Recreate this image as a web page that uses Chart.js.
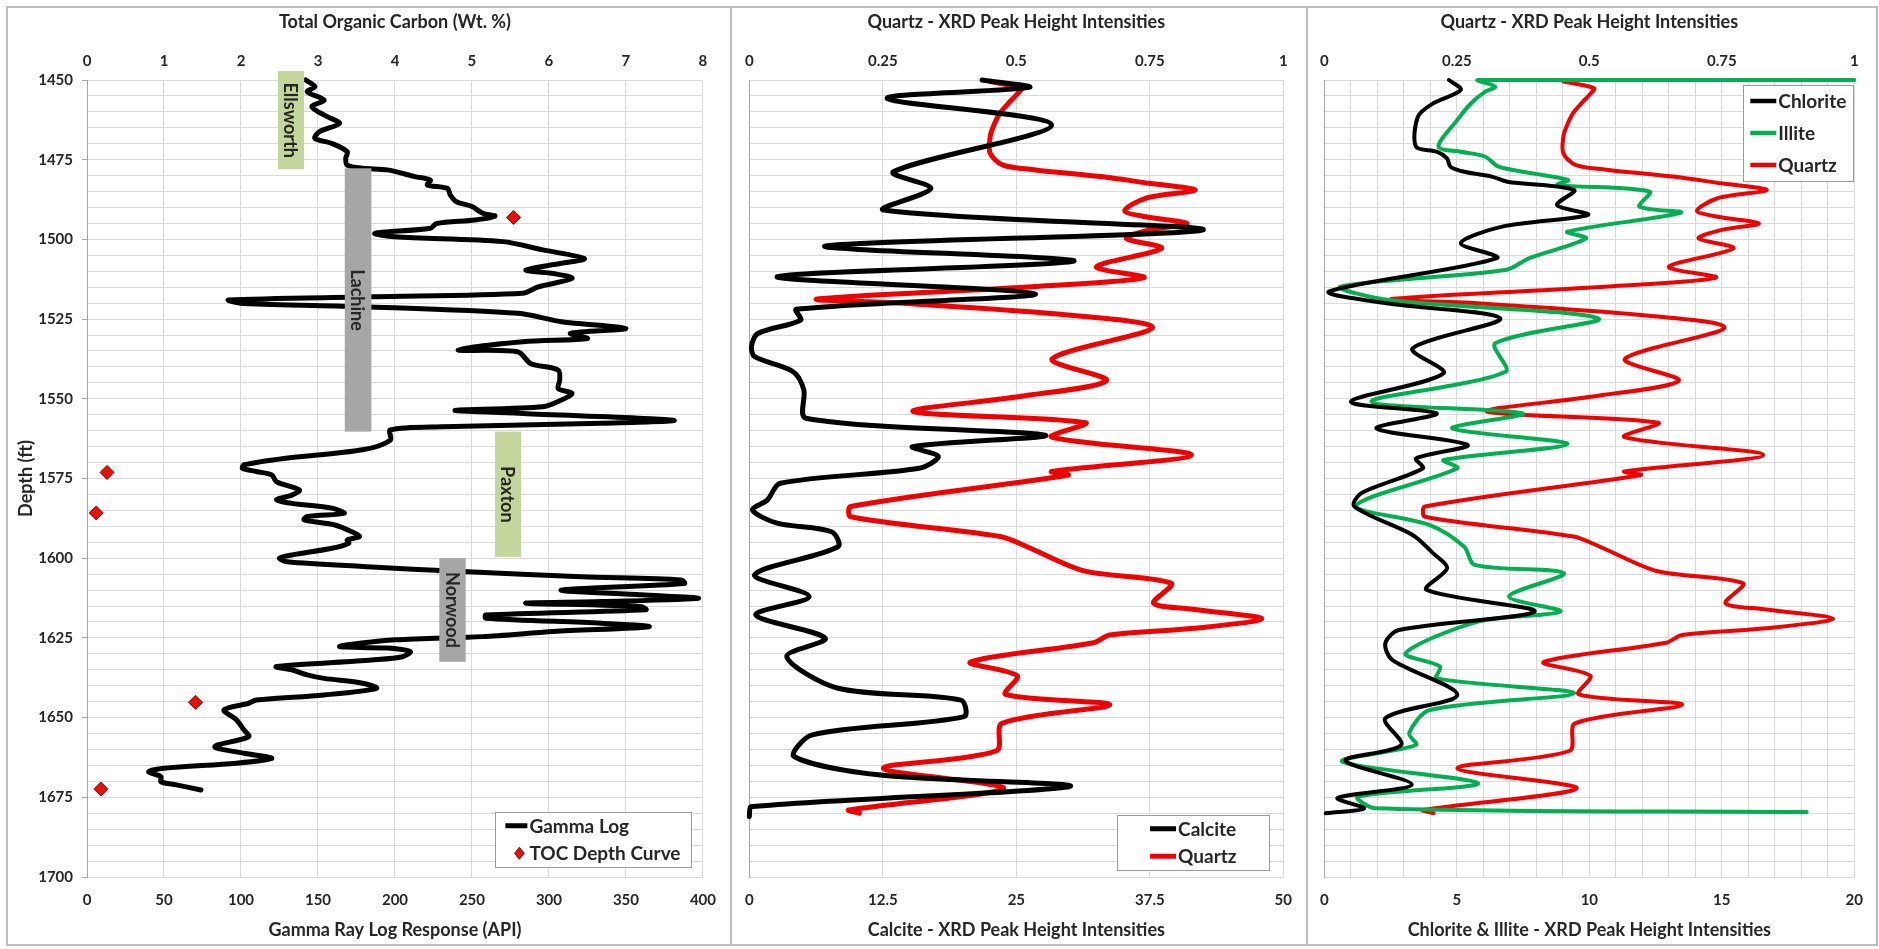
<!DOCTYPE html>
<html><head><meta charset="utf-8">
<script src="https://cdn.jsdelivr.net/npm/chart.js@4.4.0/dist/chart.umd.min.js"></script>
<style>
html,body{margin:0;padding:0;background:#fff;width:1879px;height:949px;overflow:hidden;position:relative}
.frame{position:absolute;border:2px solid #bdbdbd;box-sizing:border-box}
canvas{position:absolute}
</style></head><body>
<div class="frame" style="left:6px;top:6px;width:726px;height:940px"></div>
<div class="frame" style="left:730px;top:6px;width:578px;height:940px"></div>
<div class="frame" style="left:1306px;top:6px;width:572px;height:940px"></div>
<canvas id="c1" width="723" height="938" style="left:7px;top:7px"></canvas>
<canvas id="c2" width="575" height="938" style="left:731px;top:7px"></canvas>
<canvas id="c3" width="571" height="938" style="left:1306px;top:7px"></canvas>
<script>
// ---------------- DATA (depth in ft, value) ----------------
const gammaLog = [[1450.0,142],[1452.1,148],[1453.7,143],[1456.3,154],[1458.4,146],[1461.5,156],[1463.6,164],[1466.2,151],[1468.3,148],[1469.9,159],[1472.5,169],[1474.6,168],[1476.7,169],[1477.7,179],[1478.2,195],[1480.3,213],[1481.4,223],[1482.9,221],[1484.0,234],[1486.1,236],[1488.2,240],[1489.7,250],[1491.8,257],[1492.7,265],[1493.9,252],[1495.0,227],[1496.5,223],[1498.1,187],[1499.2,200],[1500.7,270],[1503.3,296],[1506.0,323],[1507.5,308],[1509.6,285],[1510.7,303],[1512.2,315],[1514.9,293],[1516.9,283],[1518.0,185],[1519.0,92],[1520.1,102],[1521.1,179],[1523.2,280],[1525.8,308],[1527.9,350],[1529.5,314],[1531.1,325],[1532.1,283],[1534.7,241],[1535.3,280],[1538.9,288],[1541.0,306],[1544.1,307],[1546.8,306],[1548.3,315],[1550.4,308],[1552.5,296],[1553.6,239],[1554.6,283],[1556.7,381],[1557.7,334],[1558.8,231],[1559.8,197],[1563.0,197],[1566.0,179],[1568.7,128],[1570.7,102],[1571.8,101],[1572.8,110],[1573.9,120],[1576.0,123],[1578.6,138],[1580.2,133],[1581.7,123],[1582.8,133],[1584.3,159],[1585.9,167],[1586.9,143],[1588.0,141],[1589.6,161],[1591.7,172],[1593.2,177],[1594.3,169],[1595.3,170],[1596.9,159],[1599.0,133],[1600.0,125],[1601.1,130],[1602.6,179],[1604.2,244],[1605.8,321],[1606.8,386],[1607.9,388],[1610.0,308],[1611.5,360],[1612.6,397],[1613.6,334],[1614.1,285],[1615.2,360],[1616.2,363],[1617.8,259],[1618.8,259],[1620.4,334],[1621.5,365],[1623.0,303],[1624.6,257],[1625.6,200],[1627.7,164],[1628.2,195],[1629.3,210],[1630.9,205],[1631.9,185],[1634.0,123],[1635.0,133],[1636.6,143],[1637.7,154],[1639.2,179],[1640.8,188],[1642.9,154],[1644.5,110],[1645.5,105],[1647.6,89],[1650.7,97],[1653.9,102],[1656.0,105],[1659.1,83],[1661.2,102],[1662.8,120],[1664.3,97],[1665.9,50],[1667.0,40],[1668.5,48],[1670.1,48],[1671.1,58],[1672.7,74]];
const tocDepthCurve = [[1493.1,5.54],[1573.1,0.26],[1585.8,0.12],[1645.2,1.41],[1672.4,0.18]];
const calcite = [[1450.0,21.8],[1452.3,26.2],[1455.8,12.9],[1464.1,28.3],[1478.8,13.5],[1484.0,17.0],[1490.8,12.6],[1497.0,42.5],[1502.1,7.1],[1506.8,30.4],[1511.7,2.6],[1517.1,26.8],[1521.9,4.4],[1525.3,4.8],[1529.5,0.8],[1533.6,0.2],[1536.8,0.5],[1541.5,4.1],[1547.2,5.1],[1556.1,5.3],[1561.4,27.7],[1565.0,15.3],[1568.1,17.7],[1571.8,15.9],[1576.5,2.9],[1581.7,1.7],[1584.9,0.3],[1589.0,2.6],[1591.7,7.7],[1596.4,8.3],[1605.2,0.5],[1612.0,5.6],[1617.8,0.6],[1625.1,7.1],[1630.9,3.5],[1640.8,8.3],[1644.5,19.8],[1649.7,20.1],[1655.4,5.9],[1662.2,4.2],[1668.0,12.3],[1671.6,30.0],[1678.0,0.1],[1681.0,0.0]];
const quartz = [[1450.5,0.451],[1452.6,0.509],[1454.7,0.500],[1456.8,0.488],[1460.5,0.469],[1464.6,0.457],[1467.8,0.451],[1473.0,0.451],[1476.7,0.475],[1478.2,0.536],[1480.3,0.657],[1482.4,0.748],[1484.5,0.835],[1487.1,0.742],[1491.0,0.703],[1492.9,0.742],[1495.0,0.820],[1497.1,0.748],[1499.7,0.706],[1502.8,0.772],[1508.6,0.650],[1512.0,0.739],[1514.8,0.536],[1518.7,0.127],[1520.1,0.294],[1523.7,0.597],[1527.7,0.755],[1537.5,0.567],[1544.3,0.669],[1549.3,0.506],[1554.0,0.307],[1557.5,0.630],[1562.0,0.566],[1567.6,0.828],[1572.8,0.566],[1573.9,0.597],[1583.8,0.190],[1587.0,0.190],[1593.2,0.470],[1596.4,0.520],[1604.0,0.627],[1607.9,0.790],[1614.1,0.757],[1616.0,0.830],[1619.0,0.960],[1622.0,0.833],[1624.1,0.675],[1626.5,0.645],[1632.6,0.414],[1636.9,0.502],[1642.7,0.480],[1646.0,0.675],[1651.8,0.473],[1660.4,0.463],[1665.9,0.251],[1672.2,0.476],[1679.0,0.186],[1680.0,0.206]];
const chlorite = [[1450.0,4.70],[1453.1,5.15],[1457.3,4.11],[1461.5,3.53],[1470.9,3.46],[1472.5,4.24],[1474.6,4.63],[1477.2,4.76],[1478.8,5.28],[1480.3,6.32],[1481.9,6.90],[1484.5,9.43],[1489.2,8.78],[1492.3,9.95],[1496.0,6.71],[1501.2,5.15],[1505.9,6.51],[1516.4,0.16],[1520.1,2.43],[1524.8,6.64],[1534.2,3.33],[1542.0,4.50],[1550.9,1.00],[1554.6,4.24],[1559.3,1.97],[1564.5,5.41],[1568.7,3.46],[1571.8,3.72],[1579.6,1.39],[1583.8,1.13],[1592.7,3.33],[1598.5,4.11],[1603.2,4.63],[1609.9,3.86],[1616.7,7.94],[1622.5,2.81],[1626.7,2.30],[1631.9,2.56],[1642.9,5.02],[1650.2,2.30],[1658.6,2.90],[1663.5,0.80],[1671.0,3.30],[1675.2,0.50],[1678.5,1.50],[1680.0,0.05]];
const illite = [[1450.0,20.0],[1450.0,5.80],[1452.1,6.45],[1453.7,6.06],[1457.3,5.54],[1462.5,5.02],[1470.9,4.31],[1472.5,5.15],[1474.0,6.06],[1477.2,6.58],[1479.3,7.87],[1481.4,9.20],[1482.9,8.80],[1485.0,12.28],[1489.7,11.89],[1491.6,13.45],[1497.6,9.17],[1499.7,9.88],[1505.9,7.74],[1509.6,6.84],[1514.8,0.61],[1519.0,2.43],[1524.8,10.34],[1532.6,6.45],[1541.5,6.84],[1550.9,1.78],[1554.6,7.48],[1559.3,4.83],[1564.2,9.17],[1569.2,4.50],[1571.8,5.02],[1583.5,1.20],[1589.6,3.98],[1596.4,5.28],[1602.1,5.67],[1604.7,9.04],[1612.0,6.97],[1616.7,8.91],[1619.9,5.80],[1629.8,3.07],[1634.0,4.37],[1637.7,4.24],[1642.4,9.43],[1647.6,3.98],[1654.9,3.20],[1658.6,3.46],[1663.8,0.67],[1670.6,5.80],[1674.8,1.26],[1678.4,1.91],[1679.6,18.2]];
// formation intervals: name, top depth, base depth, API column
const formationNames = ['Ellsworth','Lachine','Paxton','Norwood'];
const formationTop   = [1447.2, 1477.7, 1560.3, 1600.0];
const formationBase  = [1478.0, 1560.3, 1599.6, 1632.5];
const formationApiL  = [124, 167.4, 265, 228.8];
const formationApiR  = [141, 184.7, 282, 245.9];
const formationKind  = ['green','gray','green','gray'];
// ticks
const depthRange = [1450, 1700], depthStep = 5, depthLabelStep = 25;
const gammaTicks = [0,50,100,150,200,250,300,350,400];
const tocTicks = [0,1,2,3,4,5,6,7,8];
const quartzTicks = [0,0.25,0.5,0.75,1];
const calciteTicks = [0,12.5,25,37.5,50];
const clayLabelTicks = [0,5,10,15,20];
const clayGridTicks = [0,1,2,3,4,5,6,7,8,9,10,11,12,13,14,15,16,17,18,19,20];

// ---------------- STYLE ----------------
const FONT = "Lato, 'Open Sans', 'Liberation Sans', sans-serif";
const TXT = '#262626', GRID = '#d9d9d9', AXIS = '#a6a6a6';
const RED = '#f00000', GREEN = '#00b050', BLACK = '#000000';
const depthTicks = [];
for (let d = depthRange[0]; d <= depthRange[1]; d += depthStep) depthTicks.push(d);

function depthAxis(o) {
  return {
    type: 'linear', position: 'left', reverse: true, min: depthRange[0], max: depthRange[1],
    afterBuildTicks: s => { s.ticks = depthTicks.map(v => ({value: v})); },
    ticks: { display: o.labels, autoSkip: false, padding: 9, color: TXT,
      font: {family: FONT, size: 15, weight: 'bold'},
      callback: v => (v % depthLabelStep === 0 ? String(v) : '') },
    grid: { color: GRID, lineWidth: 1, drawTicks: o.labels, tickLength: 5,
      tickColor: c => (c.tick && c.tick.value % depthLabelStep === 0) ? AXIS : 'rgba(0,0,0,0)' },
    border: { display: true, color: AXIS, width: 1 },
    title: o.title ? { display: true, text: o.title, color: TXT,
      font: {family: FONT, size: 18, weight: 'bold'}, padding: {top: 8, bottom: 0} } : {display: false},
    afterFit: s => { s.width = o.width; }
  };
}
function valueAxis(o) {
  const top = o.position === 'top';
  return {
    type: 'linear', position: o.position, min: o.min, max: o.max,
    afterBuildTicks: s => { s.ticks = o.gridTicks.map(v => ({value: v})); },
    ticks: { autoSkip: false, maxRotation: 0, minRotation: 0, padding: top ? 10 : 14, color: TXT,
      font: {family: FONT, size: 15, weight: 'bold'},
      callback: v => o.labelTicks.some(t => Math.abs(t - v) < 1e-9) ? String(v) : '' },
    grid: { display: o.grid, color: GRID, lineWidth: 1, drawTicks: false },
    border: { display: false },
    title: { display: true, text: o.title, color: TXT, font: {family: FONT, size: 18, weight: 'bold'},
      padding: top ? {top: 4, bottom: 0} : {top: 0, bottom: 4} },
    afterFit: s => { s.height = top ? 73 : 68; }
  };
}
const toPts = arr => arr.map(([d, v]) => ({x: v, y: d}));
function lineDs(label, arr, color, width, xAxisID) {
  return { label, data: toPts(arr), xAxisID, yAxisID: 'y', showLine: true, borderColor: color,
    backgroundColor: color, borderWidth: width, pointRadius: 0, tension: 0.3, clip: 8,
    borderJoinStyle: 'round', borderCapStyle: 'round' };
}

function boxLegend(cfg) {
  return { id: 'boxLegend', afterDraw(chart) {
    const ctx = chart.ctx, a = chart.chartArea;
    const bx = a.right - cfg.right - cfg.w;
    const by = cfg.top != null ? a.top + cfg.top : a.bottom - cfg.bottom - cfg.h;
    ctx.save();
    ctx.fillStyle = '#fff'; ctx.fillRect(bx, by, cfg.w, cfg.h);
    ctx.strokeStyle = '#9a9a9a'; ctx.lineWidth = 1;
    ctx.strokeRect(Math.round(bx) + 0.5, Math.round(by) + 0.5, cfg.w, cfg.h);
    ctx.font = 'bold 19px ' + FONT; ctx.textBaseline = 'middle'; ctx.textAlign = 'left';
    const dsets = chart.data.datasets;
    const maxW = Math.max(...dsets.map(d => ctx.measureText(d.label).width));
    const sw = cfg.sampleW;
    const x0 = bx + (cfg.w - sw - 2 - maxW) / 2;
    const rowH = cfg.h / dsets.length;
    dsets.forEach((d, i) => {
      const cy = by + rowH * (i + 0.5);
      if (d.showLine) {
        ctx.strokeStyle = d.borderColor; ctx.lineWidth = cfg.lineW; ctx.lineCap = 'butt';
        ctx.beginPath(); ctx.moveTo(x0, cy); ctx.lineTo(x0 + sw, cy); ctx.stroke();
      } else {
        const cx = x0 + sw / 2 + 3, r = 6;
        ctx.fillStyle = d.backgroundColor; ctx.strokeStyle = d.borderColor; ctx.lineWidth = 1;
        ctx.beginPath(); ctx.moveTo(cx, cy - r); ctx.lineTo(cx + r * 0.8, cy); ctx.lineTo(cx, cy + r); ctx.lineTo(cx - r * 0.8, cy); ctx.closePath();
        ctx.fill(); ctx.stroke();
      }
      ctx.fillStyle = TXT; ctx.fillText(d.label, x0 + sw + 2, cy + 1);
    });
    ctx.restore();
  }};
}
const formationPlugin = { id: 'formations', afterDatasetsDraw(chart) {
  const ctx = chart.ctx, xs = chart.scales.x, ys = chart.scales.y;
  ctx.save();
  formationNames.forEach((name, i) => {
    const x1 = xs.getPixelForValue(formationApiL[i]), x2 = xs.getPixelForValue(formationApiR[i]);
    const y1 = ys.getPixelForValue(formationTop[i]), y2 = ys.getPixelForValue(formationBase[i]);
    ctx.fillStyle = formationKind[i] === 'green' ? '#c3d69b' : '#a6a6a6';
    ctx.fillRect(x1, y1, x2 - x1, y2 - y1);
    ctx.save();
    ctx.translate((x1 + x2) / 2, (y1 + y2) / 2);
    ctx.rotate(Math.PI / 2);
    ctx.fillStyle = '#262626'; ctx.font = 'bold 18px ' + FONT;
    ctx.textAlign = 'center'; ctx.textBaseline = 'middle';
    ctx.fillText(name, 0, 1);
    ctx.restore();
  });
  ctx.restore();
}};

function makeChart(id, datasets, scales, padRight, plugins) {
  return new Chart(document.getElementById(id), {
    type: 'scatter',
    data: {datasets},
    options: { responsive: false, animation: false, events: [], devicePixelRatio: 1,
      layout: { padding: {left: 0, right: padRight, top: 0, bottom: 0}, autoPadding: false },
      plugins: { legend: {display: false}, tooltip: {enabled: false} },
      scales },
    plugins
  });
}

// Panel 1
makeChart('c1', [
  lineDs('Gamma Log', gammaLog, BLACK, 5, 'x'),
  { label: 'TOC Depth Curve', data: toPts(tocDepthCurve), xAxisID: 'x2', yAxisID: 'y', showLine: false,
    pointStyle: 'rectRot', pointRadius: 7, backgroundColor: '#e3120b', borderColor: '#8b0000', borderWidth: 1, clip: 10 }
], {
  y: depthAxis({labels: true, title: 'Depth (ft)', width: 80}),
  x: valueAxis({position: 'bottom', min: 0, max: 400, gridTicks: gammaTicks, labelTicks: gammaTicks, title: 'Gamma Ray Log Response (API)', grid: true}),
  x2: valueAxis({position: 'top', min: 0, max: 8, gridTicks: tocTicks, labelTicks: tocTicks, title: 'Total Organic Carbon (Wt. %)', grid: false})
}, 24, [formationPlugin, boxLegend({right: 12, bottom: 10, w: 196, h: 55, sampleW: 22, lineW: 5})]);

// Panel 2
makeChart('c2', [
  lineDs('Calcite', calcite, BLACK, 5, 'x'),
  lineDs('Quartz', quartz, RED, 5, 'x2')
], {
  y: depthAxis({labels: false, width: 11}),
  x: valueAxis({position: 'bottom', min: 0, max: 50, gridTicks: calciteTicks, labelTicks: calciteTicks, title: 'Calcite - XRD Peak Height Intensities', grid: true}),
  x2: valueAxis({position: 'top', min: 0, max: 1, gridTicks: quartzTicks, labelTicks: quartzTicks, title: 'Quartz - XRD Peak Height Intensities', grid: false})
}, 14, [boxLegend({right: 14, bottom: 7, w: 152, h: 55, sampleW: 26, lineW: 5})]);

// Panel 3
makeChart('c3', [
  lineDs('Chlorite', chlorite, BLACK, 4, 'x'),
  lineDs('Illite', illite, GREEN, 4, 'x'),
  lineDs('Quartz', quartz, RED, 4, 'x2')
], {
  y: depthAxis({labels: false, width: 12}),
  x: valueAxis({position: 'bottom', min: 0, max: 20, gridTicks: clayGridTicks, labelTicks: clayLabelTicks, title: 'Chlorite & Illite - XRD Peak Height Intensities', grid: true}),
  x2: valueAxis({position: 'top', min: 0, max: 1, gridTicks: quartzTicks, labelTicks: quartzTicks, title: 'Quartz - XRD Peak Height Intensities', grid: false})
}, 7, [boxLegend({right: 1, top: 5, w: 110, h: 96, sampleW: 26, lineW: 4.5})]);
</script>
</body></html>
